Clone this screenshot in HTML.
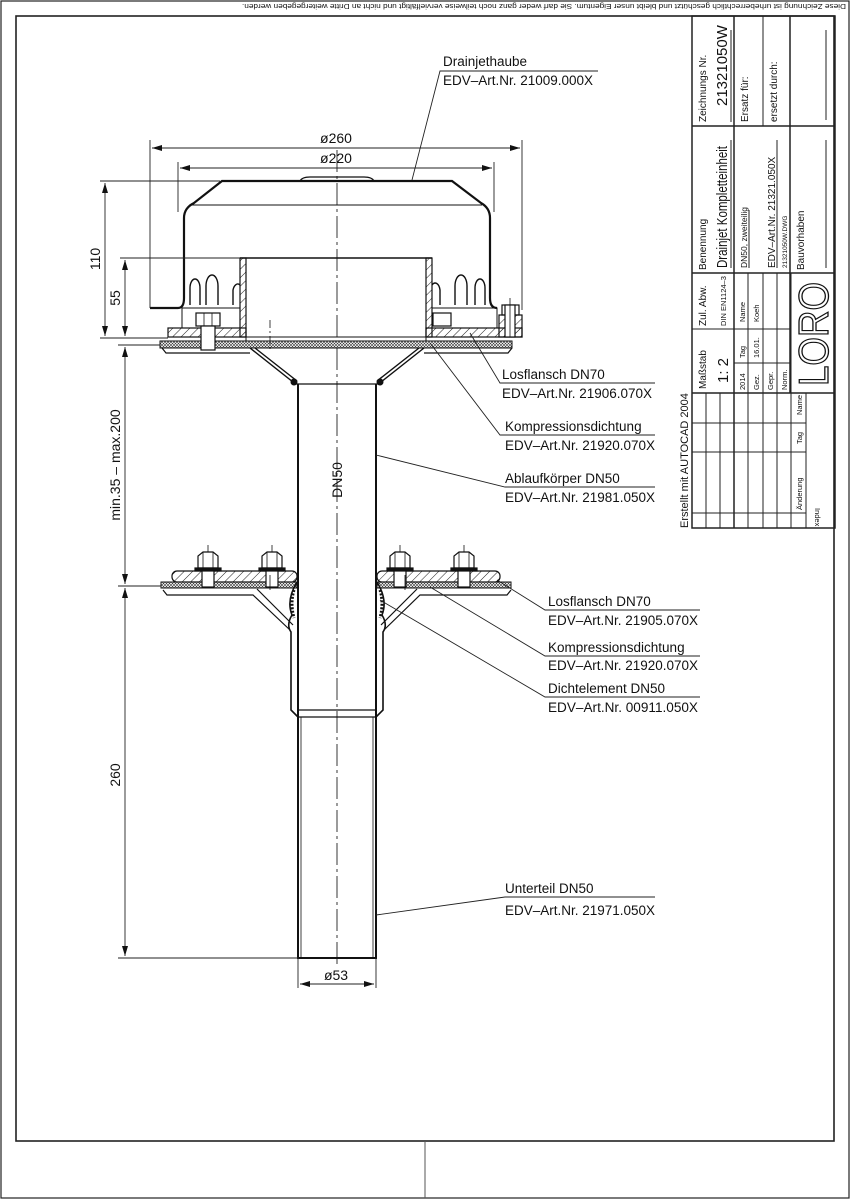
<!DOCTYPE html>
<html><head><meta charset="utf-8"><style>
html,body{margin:0;padding:0;background:#fff}
svg{display:block}
text{font-family:"Liberation Sans",sans-serif;fill:#111}
</style></head><body>
<svg width="850" height="1200" viewBox="0 0 850 1200" xmlns="http://www.w3.org/2000/svg">
<defs>
<pattern id="h" width="6" height="6" patternUnits="userSpaceOnUse" patternTransform="rotate(45)"><line x1="0" y1="0" x2="0" y2="6" stroke="#222" stroke-width="1"/></pattern>
<pattern id="x" width="3" height="3" patternUnits="userSpaceOnUse"><rect width="3" height="3" fill="#fff"/><path d="M0 0L3 3M3 0L0 3" stroke="#333" stroke-width="0.6"/></pattern>
<marker id="a" viewBox="0 0 10 6" refX="10" refY="3" markerWidth="10" markerHeight="6" orient="auto-start-reverse" markerUnits="userSpaceOnUse"><path d="M0 0L10 3L0 6z" fill="#111"/></marker>
</defs>
<rect x="1" y="1" width="848" height="1197" fill="none" stroke="#222" stroke-width="1.2"/>
<rect x="16" y="16" width="818" height="1125" fill="none" stroke="#222" stroke-width="1.6"/>
<line x1="425" y1="1141" x2="425" y2="1198" stroke="#555" stroke-width="1"/>
<text transform="translate(846,4) rotate(180)" font-size="7.6" textLength="604" lengthAdjust="spacingAndGlyphs">Diese Zeichnung ist urheberrechtlich geschützt und bleibt unser Eigentum. Sie darf weder ganz noch teilweise vervielfältigt und nicht an Dritte weitergegeben werden.</text>

<g stroke="#222" fill="none" stroke-width="1">
<rect x="692" y="16" width="143" height="512" stroke-width="1.5"/>
<line x1="734" y1="16" x2="734" y2="528" stroke-width="1.5"/>
<line x1="790" y1="16" x2="790" y2="393" stroke-width="1.5"/>
<line x1="692" y1="126" x2="835" y2="126" stroke-width="1.5"/>
<line x1="692" y1="273" x2="835" y2="273" stroke-width="1.5"/>
<line x1="692" y1="393" x2="835" y2="393" stroke-width="1.5"/>
<line x1="763" y1="16" x2="763" y2="126"/>
<line x1="731" y1="30" x2="731" y2="122"/>
<line x1="826" y1="30" x2="826" y2="120"/>
<line x1="731" y1="140" x2="731" y2="268"/>
<line x1="749" y1="210" x2="749" y2="268"/>
<line x1="777" y1="140" x2="777" y2="268"/>
<line x1="826" y1="140" x2="826" y2="268"/>
<line x1="692" y1="329" x2="791" y2="329"/>
<line x1="734" y1="363" x2="791" y2="363"/>
<line x1="748" y1="273" x2="748" y2="528"/>
<line x1="763" y1="273" x2="763" y2="528"/>
<line x1="777" y1="273" x2="777" y2="528"/>
<line x1="791" y1="273" x2="791" y2="528"/>
<line x1="706" y1="393" x2="706" y2="528"/>
<line x1="720" y1="393" x2="720" y2="528"/>
<line x1="806" y1="393" x2="806" y2="528"/>
<line x1="692" y1="423" x2="806" y2="423"/>
<line x1="692" y1="452" x2="806" y2="452"/>
<line x1="692" y1="513" x2="806" y2="513"/>
</g>
<g font-size="10">
<text transform="translate(706,122) rotate(-90)">Zeichnungs Nr.</text>
<text transform="translate(727,106) rotate(-90)" font-size="15">21321050W</text>
<text transform="translate(748,122) rotate(-90)">Ersatz für:</text>
<text transform="translate(777,122) rotate(-90)">ersetzt durch:</text>
<text transform="translate(706,270) rotate(-90)">Benennung</text>
<text transform="translate(727,268) rotate(-90)" font-size="15" textLength="122" lengthAdjust="spacingAndGlyphs">Drainjet Kompletteinheit</text>
<text transform="translate(747,268) rotate(-90)" font-size="8.5">DN50, zweiteilig</text>
<text transform="translate(775,268) rotate(-90)" font-size="10">EDV–Art.Nr. 21321.050X</text>
<text transform="translate(787,268) rotate(-90)" font-size="6.5">21321050W.DWG</text>
<text transform="translate(804,270) rotate(-90)">Bauvorhaben</text>
<text transform="translate(706,326) rotate(-90)">Zul. Abw.</text>
<text transform="translate(726,326) rotate(-90)" font-size="7.5">DIN EN1124–3</text>
<text transform="translate(706,389) rotate(-90)">Maßstab</text>
<text transform="translate(728,383) rotate(-90)" font-size="15">1: 2</text>
<g font-size="7.5">
<text transform="translate(745,322) rotate(-90)">Name</text>
<text transform="translate(745,358) rotate(-90)">Tag</text>
<text transform="translate(745,390) rotate(-90)">2014</text>
<text transform="translate(759,322) rotate(-90)">Koeh</text>
<text transform="translate(759,358) rotate(-90)">16.01.</text>
<text transform="translate(759,390) rotate(-90)">Gez.</text>
<text transform="translate(773,390) rotate(-90)">Gepr.</text>
<text transform="translate(787,390) rotate(-90)">Norm.</text>
<text transform="translate(802,415) rotate(-90)">Name</text>
<text transform="translate(802,444) rotate(-90)">Tag</text>
<text transform="translate(802,510) rotate(-90)">Änderung</text>
<text transform="translate(815,508) rotate(90)">Index</text>
</g>
<text transform="translate(688,528) rotate(-90)" font-size="11">Erstellt mit AUTOCAD 2004</text>
</g>
<text transform="translate(828,386) rotate(-90)" font-size="42" style="fill:#fff;stroke:#111;stroke-width:1.3" textLength="104" lengthAdjust="spacingAndGlyphs">LORO</text>

<line x1="337" y1="150" x2="337" y2="965" stroke="#222" stroke-width="0.9" stroke-dasharray="22,4,3,4"/>

<g fill="none" stroke="#111">
<path d="M150 308 L178 308 Q184 308 184 298 L184 218 Q184 208 194 203 L222 181 L452 181 L481 203 Q490 208 490 218 L490 298 Q490 308 497 308" stroke-width="2.2"/>
<path d="M300 181 Q302 177 310 177 L364 177 Q372 177 374 181" stroke-width="1.2"/>
<line x1="189" y1="205" x2="482" y2="205" stroke-width="1"/>
<g stroke-width="1.4">
<path d="M190 305 L190 288 A5 9 0 0 1 200 288 L200 305"/>
<path d="M206 305 L206 286 A6 11 0 0 1 218 286 L218 305"/>
<path d="M233 305 L233 290 A5 9 0 0 1 240 285"/>
<path d="M432 285 A5 9 0 0 1 440 290 L440 305"/>
<path d="M455 305 L455 286 A6 11 0 0 1 467 286 L467 305"/>
<path d="M475 305 L475 288 A5 9 0 0 1 485 288 L485 305"/>
</g>
<rect x="182" y="308" width="58" height="20" stroke-width="1"/>
<rect x="432" y="308" width="65" height="20" stroke-width="1"/>
<line x1="240" y1="258" x2="432" y2="258" stroke-width="1.6"/>
<rect x="240" y="258" width="6" height="79" fill="url(#h)" stroke-width="1.2"/>
<rect x="426" y="258" width="6" height="79" fill="url(#h)" stroke-width="1.2"/>
<rect x="168" y="328" width="78" height="9" fill="url(#h)" stroke-width="1.2"/>
<rect x="426" y="328" width="96" height="9" fill="url(#h)" stroke-width="1.2"/>
<rect x="246" y="337" width="180" height="4" stroke-width="1"/>
<rect x="160" y="341" width="352" height="7" fill="url(#x)" stroke-width="1"/>
<path d="M162 348 L166 353 L250 353 M424 353 L508 353 L512 348" stroke-width="1.2"/>
<rect x="196" y="313" width="24" height="13" fill="#fff" stroke-width="1.2"/>
<line x1="204" y1="313" x2="204" y2="326" stroke-width="0.8"/><line x1="212" y1="313" x2="212" y2="326" stroke-width="0.8"/>
<rect x="201" y="326" width="14" height="24" fill="#fff" stroke-width="1.2"/>
<rect x="433" y="313" width="18" height="13" fill="#fff" stroke-width="1.2"/>
<rect x="502" y="305" width="17" height="10" fill="#fff" stroke-width="1.2"/>
<rect x="499" y="315" width="23" height="22" fill="url(#h)" stroke-width="1.2"/>
<rect x="505" y="305" width="10" height="32" fill="#fff" stroke-width="1.2"/>
<line x1="510" y1="298" x2="510" y2="337" stroke-width="0.8"/>
<line x1="270" y1="320" x2="270" y2="350" stroke-width="0.8" stroke-dasharray="8,3,2,3"/>
<path d="M250 348 L293 382 M255 348 L297 381 M424 348 L381 382 M419 348 L377 381" stroke-width="1.4"/>
<circle cx="294" cy="382" r="3" fill="#111"/><circle cx="380" cy="382" r="3" fill="#111"/>
<line x1="293" y1="384" x2="381" y2="384" stroke-width="1.2"/>
<path d="M298 384 L298 958 L376 958 L376 384" stroke-width="2"/>
<line x1="301" y1="717" x2="301" y2="958" stroke-width="0.8"/>
<line x1="373" y1="717" x2="373" y2="958" stroke-width="0.8"/>
<rect x="172" y="571" width="125" height="11" rx="5" fill="url(#h)" stroke-width="1.2"/>
<rect x="377" y="571" width="123" height="11" rx="5" fill="url(#h)" stroke-width="1.2"/>
<rect x="161" y="582" width="136" height="6" fill="url(#x)" stroke-width="1"/>
<rect x="377" y="582" width="134" height="6" fill="url(#x)" stroke-width="1"/>
<path d="M163 590 L167 595 L253 595 L290 630 M511 590 L507 595 L420 595 L384 630" stroke-width="1.2"/>
<path d="M257 589 L293 625 M417 589 L381 625" stroke-width="1.2"/>
<path d="M297 582 Q286 600 292 615 Q286 625 291 632 L291 710 L298 717" stroke-width="1.6"/>
<path d="M377 582 Q388 600 382 615 Q388 625 383 632 L383 710 L376 717" stroke-width="1.6"/>
<path d="M294 590 Q290 603 294 618 M380 590 Q384 603 380 618" stroke-width="3" stroke-dasharray="2,1.5"/>
<line x1="298" y1="710" x2="376" y2="710" stroke-width="1.2"/>
<line x1="298" y1="717" x2="376" y2="717" stroke-width="1.2"/>
<g stroke-width="1.2">
<g id="b"><path d="M198 568 L198 556 L203 552 L213 552 L218 556 L218 568 Z" fill="#fff"/><line x1="203" y1="552" x2="203" y2="568" stroke-width="0.8"/><line x1="213" y1="552" x2="213" y2="568" stroke-width="0.8"/><rect x="195" y="568" width="26" height="3" fill="#111"/><rect x="202" y="571" width="12" height="16" fill="#fff"/><line x1="208" y1="545" x2="208" y2="552" stroke-width="0.8"/></g>
<use href="#b" x="64"/><use href="#b" x="192"/><use href="#b" x="256"/>
</g>
<line x1="270" y1="575" x2="270" y2="590" stroke-width="0.8"/>
<line x1="405" y1="575" x2="405" y2="590" stroke-width="0.8"/>
</g>

<g stroke="#222" stroke-width="0.9" fill="none">
<line x1="150" y1="140" x2="150" y2="308"/><line x1="522" y1="140" x2="522" y2="310"/>
<line x1="152" y1="148" x2="520" y2="148" marker-start="url(#a)" marker-end="url(#a)"/>
<line x1="178" y1="162" x2="178" y2="212"/><line x1="494" y1="162" x2="494" y2="212"/>
<line x1="180" y1="168" x2="492" y2="168" marker-start="url(#a)" marker-end="url(#a)"/>
<line x1="100" y1="181" x2="220" y2="181"/><line x1="100" y1="338" x2="168" y2="338"/>
<line x1="105" y1="183" x2="105" y2="336" marker-start="url(#a)" marker-end="url(#a)"/>
<line x1="120" y1="258" x2="240" y2="258"/>
<line x1="125" y1="260" x2="125" y2="336" marker-start="url(#a)" marker-end="url(#a)"/>
<line x1="118" y1="345" x2="160" y2="345"/>
<line x1="118" y1="586" x2="161" y2="586"/>
<line x1="125" y1="347" x2="125" y2="584" marker-start="url(#a)" marker-end="url(#a)"/>
<line x1="118" y1="958" x2="298" y2="958"/>
<line x1="125" y1="588" x2="125" y2="956" marker-start="url(#a)" marker-end="url(#a)"/>
<line x1="298" y1="958" x2="298" y2="988"/><line x1="376" y1="958" x2="376" y2="988"/>
<line x1="300" y1="984" x2="374" y2="984" marker-start="url(#a)" marker-end="url(#a)"/>
</g>
<g font-size="14" text-anchor="middle">
<text x="336" y="143">ø260</text>
<text x="336" y="163">ø220</text>
<text x="336" y="980">ø53</text>
<text transform="translate(100,259) rotate(-90)">110</text>
<text transform="translate(120,298) rotate(-90)">55</text>
<text transform="translate(120,465) rotate(-90)">min.35 – max.200</text>
<text transform="translate(120,775) rotate(-90)">260</text>
<text transform="translate(342,480) rotate(-90)">DN50</text>
</g>

<g stroke="#222" stroke-width="0.9" fill="none">
<path d="M598 71 L440 71 L412 180"/>
<path d="M655 383 L500 383 L470 333"/>
<path d="M655 435 L500 435 L430 343"/>
<path d="M655 487 L505 487 L376 455"/>
<path d="M700 610 L545 610 L497 580"/>
<path d="M700 656 L545 656 L430 587"/>
<path d="M700 697 L545 697 L380 600"/>
<path d="M655 897 L505 897 L376 915"/>
</g>
<g font-size="13.5">
<text x="443" y="66">Drainjethaube</text>
<text x="443" y="85" textLength="150" lengthAdjust="spacingAndGlyphs">EDV–Art.Nr. 21009.000X</text>
<text x="502" y="379">Losflansch DN70</text>
<text x="502" y="398" textLength="150" lengthAdjust="spacingAndGlyphs">EDV–Art.Nr. 21906.070X</text>
<text x="505" y="431">Kompressionsdichtung</text>
<text x="505" y="450" textLength="150" lengthAdjust="spacingAndGlyphs">EDV–Art.Nr. 21920.070X</text>
<text x="505" y="483">Ablaufkörper DN50</text>
<text x="505" y="502" textLength="150" lengthAdjust="spacingAndGlyphs">EDV–Art.Nr. 21981.050X</text>
<text x="548" y="606">Losflansch DN70</text>
<text x="548" y="625" textLength="150" lengthAdjust="spacingAndGlyphs">EDV–Art.Nr. 21905.070X</text>
<text x="548" y="652">Kompressionsdichtung</text>
<text x="548" y="670" textLength="150" lengthAdjust="spacingAndGlyphs">EDV–Art.Nr. 21920.070X</text>
<text x="548" y="693">Dichtelement DN50</text>
<text x="548" y="712" textLength="150" lengthAdjust="spacingAndGlyphs">EDV–Art.Nr. 00911.050X</text>
<text x="505" y="893">Unterteil DN50</text>
<text x="505" y="915" textLength="150" lengthAdjust="spacingAndGlyphs">EDV–Art.Nr. 21971.050X</text>
</g>
</svg>
</body></html>
